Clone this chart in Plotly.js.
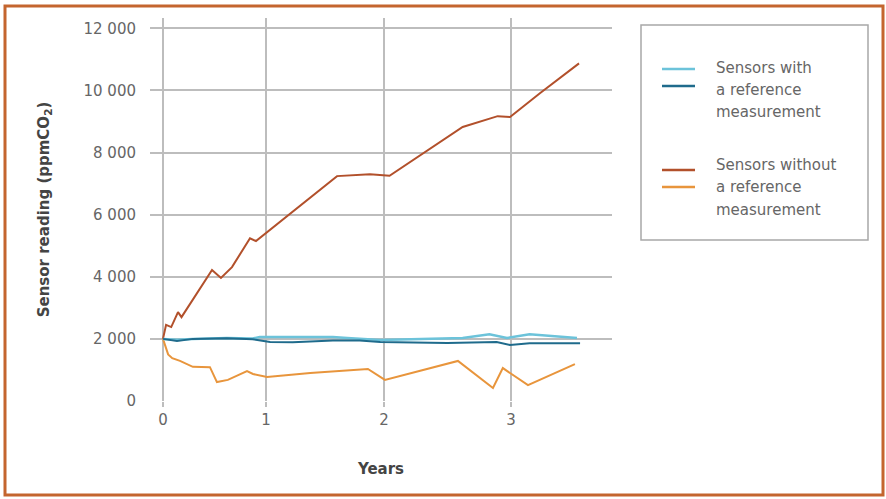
<!DOCTYPE html>
<html>
<head>
<meta charset="utf-8">
<script src="https://cdn.plot.ly/plotly-3.0.1.min.js"></script>
<style>
html,body{margin:0;padding:0;background:#fff;}
#chart{width:886px;height:499px;}
</style>
</head>
<body>
<div id="chart"></div>
<script>
// X positions are in axis units of the original (non-uniform) year axis
var tickPositions = [0, 1, 2.146, 3.379];
var tickLabels = ['0', '1', '2', '3'];
var yTickVals = [0, 2000, 4000, 6000, 8000, 10000, 12000];
var yTickLabels = ['0', '2 000', '4 000', '6 000', '8 000', '10 000', '12 000'];

var withoutUpperX = [0, 0.03, 0.08, 0.146, 0.18, 0.476, 0.563, 0.67, 0.845, 0.903, 1.69, 2.01, 2.2, 2.91, 3.25, 3.37, 3.66, 4.04];
var withoutUpperY = [2000, 2450, 2380, 2860, 2700, 4220, 3960, 4310, 5240, 5150, 7240, 7300, 7250, 8820, 9170, 9140, 9910, 10870];

var withoutLowerX = [0, 0.02, 0.05, 0.09, 0.165, 0.29, 0.456, 0.524, 0.63, 0.816, 0.874, 1.01, 1.43, 1.99, 2.155, 2.864, 3.204, 3.30, 3.544, 4.0];
var withoutLowerY = [2000, 1780, 1500, 1380, 1290, 1100, 1090, 610, 680, 960, 870, 770, 900, 1030, 680, 1290, 420, 1060, 510, 1190];

var withLightX = [0, 0.136, 0.29, 0.62, 0.87, 0.94, 1.04, 1.65, 1.79, 2.11, 2.91, 3.17, 3.34, 3.56, 4.02];
var withLightY = [2000, 1970, 2000, 2030, 2010, 2060, 2060, 2060, 2030, 1960, 2030, 2150, 2030, 2150, 2030];

var withDarkX = [0, 0.136, 0.29, 0.62, 0.87, 1.04, 1.26, 1.65, 1.91, 2.11, 2.76, 3.24, 3.37, 3.56, 4.05];
var withDarkY = [2000, 1930, 2000, 2020, 1990, 1900, 1890, 1950, 1950, 1900, 1870, 1900, 1800, 1860, 1860];

var cOrange = '#e8953c';
var cRed = '#b2502b';
var cLight = '#6cc3da';
var cDark = '#1f6b8c';

var traces = [
  {x: withoutLowerX, y: withoutLowerY, mode: 'lines', line: {color: cOrange, width: 2}, hoverinfo: 'skip'},
  {x: withoutUpperX, y: withoutUpperY, mode: 'lines', line: {color: cRed, width: 2}, hoverinfo: 'skip'},
  {x: withLightX, y: withLightY, mode: 'lines', line: {color: cLight, width: 2.5}, hoverinfo: 'skip'},
  {x: withDarkX, y: withDarkY, mode: 'lines', line: {color: cDark, width: 2}, hoverinfo: 'skip'}
];

var font = 'DejaVu Sans, sans-serif';
var textGray = '#666';

function px2x(p){ return (p - 150) / 462; }
function py2y(p){ return (401 - p) / 383; }

var shapes = [
  // outer frame
  {type: 'rect', xref: 'paper', yref: 'paper', x0: px2x(5), x1: px2x(883), y0: py2y(6), y1: py2y(495),
   line: {color: '#c4652e', width: 3}, fillcolor: 'rgba(0,0,0,0)'},
  // legend box
  {type: 'rect', xref: 'paper', yref: 'paper', x0: px2x(641), x1: px2x(868), y0: py2y(25), y1: py2y(240),
   line: {color: '#a8a8a8', width: 1.5}, fillcolor: 'rgba(0,0,0,0)'},
  {type: 'line', xref: 'paper', yref: 'paper', x0: px2x(662), x1: px2x(695), y0: py2y(69), y1: py2y(69), line: {color: cLight, width: 2.5}},
  {type: 'line', xref: 'paper', yref: 'paper', x0: px2x(662), x1: px2x(695), y0: py2y(86), y1: py2y(86), line: {color: cDark, width: 2.5}},
  {type: 'line', xref: 'paper', yref: 'paper', x0: px2x(662), x1: px2x(695), y0: py2y(170), y1: py2y(170), line: {color: cRed, width: 2.5}},
  {type: 'line', xref: 'paper', yref: 'paper', x0: px2x(662), x1: px2x(695), y0: py2y(187), y1: py2y(187), line: {color: cOrange, width: 2.5}}
];

var legendLines = [
  ['Sensors with', 68], ['a reference', 90], ['measurement', 112],
  ['Sensors without', 165], ['a reference', 187], ['measurement', 210]
];
var annotations = legendLines.map(function(l){
  return {xref: 'paper', yref: 'paper', x: px2x(714), y: py2y(l[1]), xanchor: 'left', yanchor: 'middle',
          text: l[0], showarrow: false, font: {family: font, size: 15, color: textGray}};
});

var layout = {
  width: 886, height: 499,
  margin: {l: 150, r: 274, t: 18, b: 98},
  paper_bgcolor: '#fff', plot_bgcolor: '#fff',
  showlegend: false,
  xaxis: {
    range: [-0.126, 4.36],
    tickmode: 'array', tickvals: tickPositions, ticktext: tickLabels,
    showgrid: true, gridcolor: '#bdbdbd', gridwidth: 2,
    zeroline: false, showline: false,
    ticks: 'outside', ticklen: 5, tickcolor: '#bdbdbd', tickwidth: 2,
    tickfont: {family: font, size: 15, color: textGray},
    title: {text: '<b>Years</b>', font: {family: font, size: 15, color: '#444'}, standoff: 35},
    fixedrange: true
  },
  yaxis: {
    range: [0, 12330],
    tickmode: 'array', tickvals: yTickVals, ticktext: yTickLabels,
    showgrid: true, gridcolor: '#bdbdbd', gridwidth: 2,
    zeroline: false, showline: false,
    ticks: 'outside', ticklen: 10, tickcolor: 'rgba(0,0,0,0)',
    tickfont: {family: font, size: 15, color: textGray},
    title: {text: '<b>Sensor reading (ppmCO<sub>2</sub>)</b>', font: {family: font, size: 15, color: '#444'}, standoff: 30},
    fixedrange: true
  },
  shapes: shapes,
  annotations: annotations
};

Plotly.newPlot('chart', traces, layout, {displayModeBar: false, staticPlot: true});
</script>
</body>
</html>
